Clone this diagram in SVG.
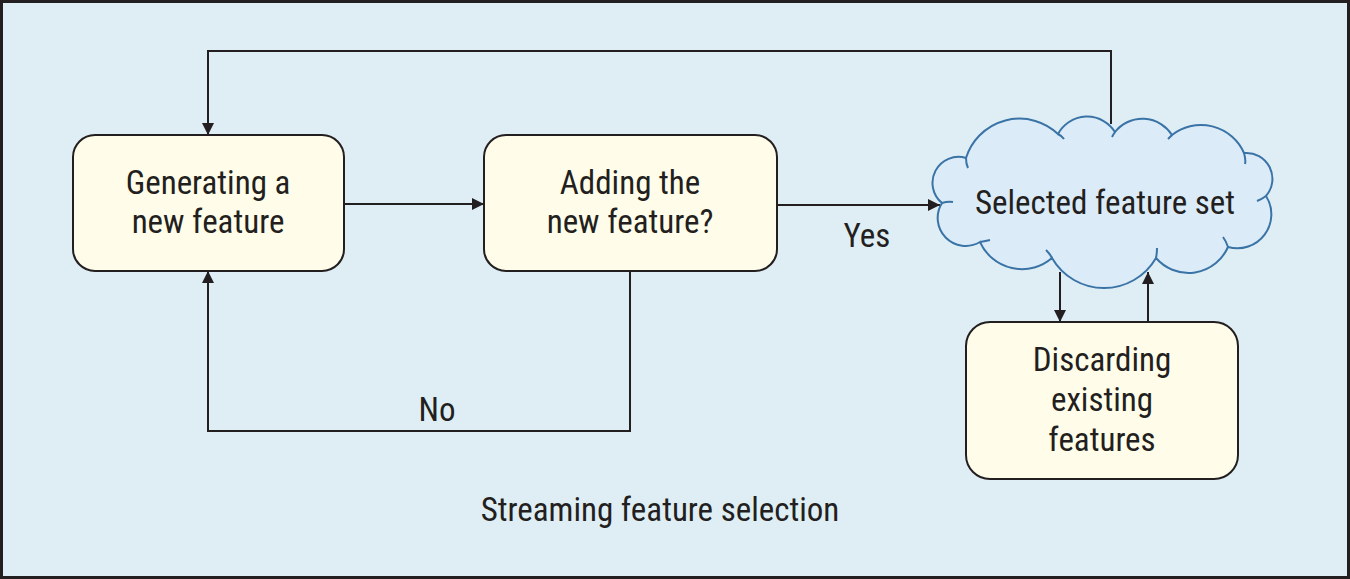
<svg xmlns="http://www.w3.org/2000/svg" width="1350" height="579" viewBox="0 0 1350 579">
<style>
.box{fill:#FFFDE9;stroke:#231F20;stroke-width:2}
.t{font-family:"Roboto Condensed","Liberation Sans Narrow","Liberation Sans",sans-serif;font-size:33px;fill:#231F20;text-anchor:middle}
.ln{fill:none;stroke:#231F20;stroke-width:2}
.hk{fill:none;stroke:#3A73A6;stroke-width:2}
</style>
<defs>
<marker id="ah" viewBox="0 0 12 12" refX="12" refY="6" markerWidth="12" markerHeight="12" markerUnits="userSpaceOnUse" orient="auto">
<path d="M0,0 L12,6 L0,12 Z" fill="#231F20"/>
</marker>
</defs>
<rect x="1.5" y="1.5" width="1347" height="576" fill="#DFEEF5" stroke="#231F20" stroke-width="3"/>
<g id="connectors">
<path class="ln" d="M1111,124 V51 H208 V135" marker-end="url(#ah)"/>
<path class="ln" d="M344,204 H484" marker-end="url(#ah)"/>
<path class="ln" d="M777,205 H940" marker-end="url(#ah)"/>
<path class="ln" d="M630,271 V431 H208 V271" marker-end="url(#ah)"/>
<path class="ln" d="M1060,272 V322" marker-end="url(#ah)"/>
<path class="ln" d="M1148,322 V272" marker-end="url(#ah)"/>
<text class="t" x="867" y="247">Yes</text>
<text class="t" x="437" y="421">No</text>
</g>
<g id="n1">
<rect class="box" x="73" y="135" width="271" height="136" rx="22"/>
<text class="t" x="208" y="194">Generating a</text>
<text class="t" x="208" y="233">new feature</text>
</g>
<g id="n2">
<rect class="box" x="484" y="135" width="293" height="136" rx="22"/>
<text class="t" x="630" y="194">Adding the</text>
<text class="t" x="630" y="233">new feature?</text>
</g>
<g id="cloud">
<path d="M942,203 A26,26 0 0 1 966,158 A56,56 0 0 1 1058,134 A33,33 0 0 1 1115,132 A35,35 0 0 1 1172,135 A47,47 0 0 1 1244,153 A26,26 0 0 1 1266,196 A34,34 0 0 1 1228,247 A43,43 0 0 1 1156,258 A60,60 0 0 1 1052,258 A46,46 0 0 1 980,242 A28,28 0 0 1 942,203 Z" fill="#DCEBF8" stroke="#3A73A6" stroke-width="2"/>
<path class="hk" d="M966,158 Q966,164 968,168 M1058,134 Q1062,136 1064,139 M1115,132 Q1113,135 1112,137 M1172,135 Q1170,137 1168,139 M1244,153 Q1246,160 1245,164 M1266,196 Q1262,199 1257,201 M1228,247 Q1226,241 1223,237 M1156,258 Q1157,253 1157,248 M1052,258 Q1050,254 1046,250 M980,242 Q986,241 990,240 M942,203 Q948,201 953,202"/>
<text class="t" x="1105" y="214">Selected feature set</text>
</g>
<g id="n3">
<rect class="box" x="966" y="322" width="272" height="157" rx="24"/>
<text class="t" x="1102" y="371">Discarding</text>
<text class="t" x="1102" y="411">existing</text>
<text class="t" x="1102" y="451">features</text>
</g>
<text class="t" x="660" y="521">Streaming feature selection</text>
</svg>
